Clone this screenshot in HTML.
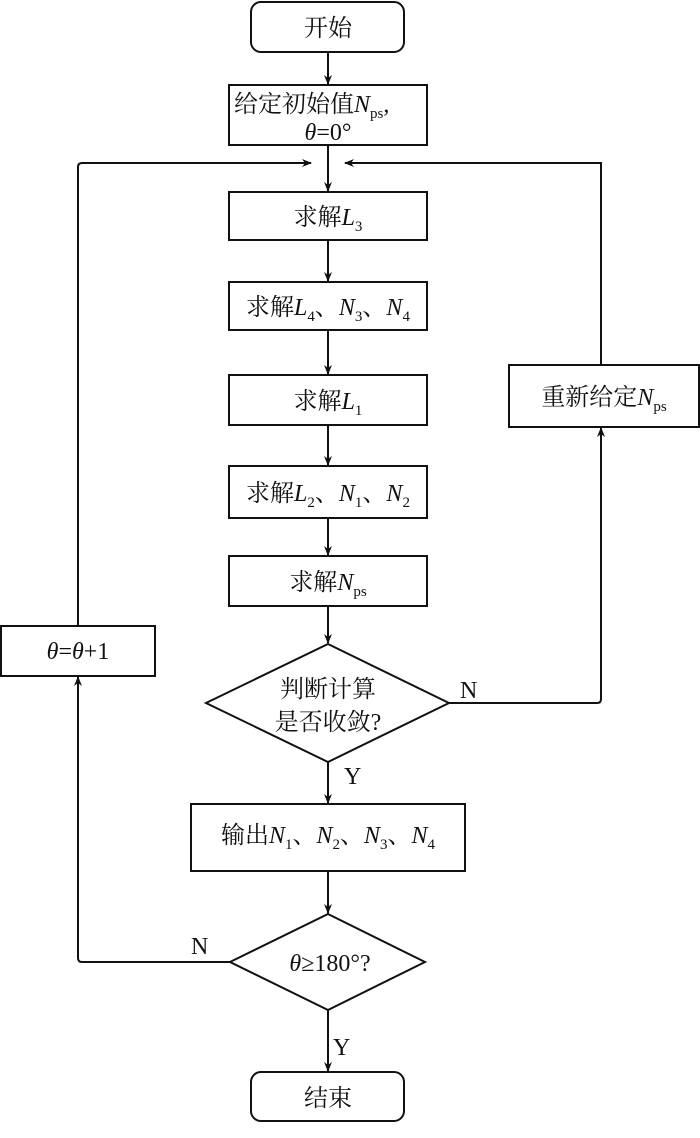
<!DOCTYPE html>
<html><head><meta charset="utf-8"><style>
html,body{margin:0;padding:0;background:#fff;}
svg{display:block;}
text{font-family:"Liberation Serif","Noto Serif CJK SC",serif;font-size:24px;fill:#111;}
.i{font-style:italic;}
.s{font-size:15px;}
</style></head><body>
<svg width="700" height="1138" viewBox="0 0 700 1138" xmlns="http://www.w3.org/2000/svg">
<defs>
<marker id="a" markerWidth="10" markerHeight="14" refX="9" refY="5" orient="auto" markerUnits="userSpaceOnUse" viewBox="0 0 10 10">
<path d="M0,1 L10,5 L0,9 L3,5 Z" fill="#111"/>
</marker>
</defs>
<g fill="none" stroke="#111" stroke-width="2">
<rect x="251" y="2" width="153" height="50" rx="10"/>
<rect x="229" y="85" width="198" height="60"/>
<rect x="229" y="192" width="198" height="48"/>
<rect x="229" y="282" width="198" height="48"/>
<rect x="229" y="375" width="198" height="50"/>
<rect x="229" y="466" width="198" height="52"/>
<rect x="229" y="556" width="198" height="50"/>
<rect x="509" y="365" width="190" height="62"/>
<rect x="1" y="626" width="154" height="50"/>
<polygon points="328,644 449,703 328,762 206,703"/>
<rect x="191" y="804" width="274" height="67"/>
<polygon points="328,914 425,962 328,1010 230,962"/>
<rect x="251" y="1072" width="153" height="49" rx="10"/>
</g>
<g fill="none" stroke="#111" stroke-width="2" marker-end="url(#a)">
<line x1="328" y1="52" x2="328" y2="84"/>
<line x1="328" y1="145" x2="328" y2="191"/>
<line x1="328" y1="240" x2="328" y2="281"/>
<line x1="328" y1="330" x2="328" y2="374"/>
<line x1="328" y1="425" x2="328" y2="465"/>
<line x1="328" y1="518" x2="328" y2="555"/>
<line x1="328" y1="606" x2="328" y2="643"/>
<line x1="328" y1="762" x2="328" y2="803"/>
<line x1="328" y1="871" x2="328" y2="913"/>
<line x1="328" y1="1010" x2="328" y2="1071"/>
<path d="M449,703 H597 Q601,703 601,699 V428"/>
<path d="M601,365 V163 H345"/>
<path d="M78,626 V167 Q78,163 82,163 H311"/>
<path d="M230,962 H82 Q78,962 78,958 V677"/>
</g>
<text x="328" y="36" text-anchor="middle">开始</text>
<text x="234" y="112">给定初始值<tspan class="i">N</tspan><tspan class="s" dy="6">ps</tspan><tspan dy="-6">,</tspan></text>
<text x="328" y="140" text-anchor="middle"><tspan class="i">θ</tspan>=0°</text>
<text x="328" y="225" text-anchor="middle">求解<tspan class="i">L</tspan><tspan class="s" dy="6">3</tspan></text>
<text x="328" y="315" text-anchor="middle">求解<tspan class="i">L</tspan><tspan class="s" dy="6">4</tspan><tspan dy="-6">、</tspan><tspan class="i">N</tspan><tspan class="s" dy="6">3</tspan><tspan dy="-6">、</tspan><tspan class="i">N</tspan><tspan class="s" dy="6">4</tspan></text>
<text x="328" y="409" text-anchor="middle">求解<tspan class="i">L</tspan><tspan class="s" dy="6">1</tspan></text>
<text x="328" y="501" text-anchor="middle">求解<tspan class="i">L</tspan><tspan class="s" dy="6">2</tspan><tspan dy="-6">、</tspan><tspan class="i">N</tspan><tspan class="s" dy="6">1</tspan><tspan dy="-6">、</tspan><tspan class="i">N</tspan><tspan class="s" dy="6">2</tspan></text>
<text x="328" y="590" text-anchor="middle">求解<tspan class="i">N</tspan><tspan class="s" dy="6">ps</tspan></text>
<text x="604" y="405" text-anchor="middle">重新给定<tspan class="i">N</tspan><tspan class="s" dy="6">ps</tspan></text>
<text x="78" y="659" text-anchor="middle"><tspan class="i">θ</tspan>=<tspan class="i">θ</tspan>+1</text>
<text x="328" y="697" text-anchor="middle">判断计算</text>
<text x="328" y="730" text-anchor="middle">是否收敛?</text>
<text x="460" y="698">N</text>
<text x="344" y="784">Y</text>
<text x="328" y="843" text-anchor="middle">输出<tspan class="i">N</tspan><tspan class="s" dy="6">1</tspan><tspan dy="-6">、</tspan><tspan class="i">N</tspan><tspan class="s" dy="6">2</tspan><tspan dy="-6">、</tspan><tspan class="i">N</tspan><tspan class="s" dy="6">3</tspan><tspan dy="-6">、</tspan><tspan class="i">N</tspan><tspan class="s" dy="6">4</tspan></text>
<text x="330" y="971" text-anchor="middle"><tspan class="i">θ</tspan>≥180°?</text>
<text x="191" y="954">N</text>
<text x="333" y="1055">Y</text>
<text x="328" y="1106" text-anchor="middle">结束</text>
</svg>
</body></html>
